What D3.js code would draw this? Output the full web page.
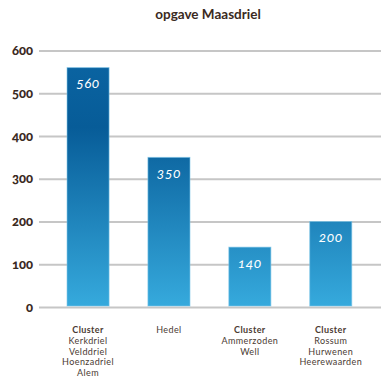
<!DOCTYPE html>
<html>
<head>
<meta charset="utf-8">
<script src="https://cdn.jsdelivr.net/npm/d3@7"></script>
<style>
  body { margin: 0; background: #fff; }
  svg text { font-family: Lato, "Open Sans", sans-serif; font-feature-settings: "onum"; }
</style>
</head>
<body>
<div id="chart"></div>
<script>
const width = 381;
const height = 389;

// chart data
const categories = ["Kerkdriel", "Hedel", "Ammerzoden", "Rossum"];
const values = [560, 350, 140, 200];
const catLines = [
  ["Cluster", "Kerkdriel", "Velddriel", "Hoenzadriel", "Alem"],
  ["Hedel"],
  ["Cluster", "Ammerzoden", "Well"],
  ["Cluster", "Rossum", "Hurwenen", "Heerewaarden"]
];
const boldFirst = [true, false, true, true];
const yTicks = [0, 100, 200, 300, 400, 500, 600];

const svg = d3.select("#chart").append("svg")
  .attr("width", width)
  .attr("height", height);

const x = d3.scaleBand()
  .domain(categories)
  .range([47.6, 371.2])
  .paddingInner(0.48)
  .paddingOuter(0.24);

const y = d3.scaleLinear()
  .domain([0, 600])
  .range([307, 50.5]);

// gradient over the full plot height, so short bars start lighter
const grad = svg.append("defs").append("linearGradient")
  .attr("id", "barGrad")
  .attr("gradientUnits", "userSpaceOnUse")
  .attr("x1", 0).attr("x2", 0)
  .attr("y1", y(600)).attr("y2", y(0));
grad.append("stop").attr("offset", "0%").attr("stop-color", "#0b65a3");
grad.append("stop").attr("offset", "30%").attr("stop-color", "#075c98");
grad.append("stop").attr("offset", "100%").attr("stop-color", "#36aadd");

// title
svg.append("text")
  .attr("x", 208)
  .attr("y", 19)
  .attr("text-anchor", "middle")
  .attr("font-size", 13.5)
  .attr("font-weight", "bold")
  .attr("fill", "#3a2a22")
  .text("opgave Maasdriel");

// gridlines + tick labels
const yAxis = d3.axisLeft(y)
  .tickValues(yTicks)
  .tickSize(-(width - 39))
  .tickPadding(6);

svg.append("g")
  .attr("transform", "translate(39,0)")
  .call(yAxis)
  .call(g => g.select(".domain").remove())
  .call(g => g.selectAll(".tick line")
    .attr("stroke", "#c6c6c6")
    .attr("stroke-width", 2))
  .call(g => g.selectAll(".tick text")
    .attr("font-size", 13)
    .attr("font-weight", "900")
    .attr("fill", "#3a2a22"));

// bars
svg.selectAll("rect.bar")
  .data(values)
  .enter().append("rect")
  .attr("class", "bar")
  .attr("x", (d, i) => x(categories[i]))
  .attr("y", d => y(d))
  .attr("width", x.bandwidth())
  .attr("height", d => y(0) - y(d) - 1)
  .attr("fill", "url(#barGrad)")
  .attr("stroke", "#7cc4e8")
  .attr("stroke-opacity", 0.6)
  .attr("stroke-width", 1);

// value labels inside bars
svg.selectAll("text.val")
  .data(values)
  .enter().append("text")
  .attr("class", "val")
  .attr("x", (d, i) => x(categories[i]) + x.bandwidth() / 2)
  .attr("y", d => y(d) + 20.5)
  .attr("text-anchor", "middle")
  .attr("font-size", 14)
  .attr("font-style", "italic")
  .attr("letter-spacing", 0.5)
  .attr("fill", "#fff")
  .text(d => d);

// category labels
categories.forEach((c, i) => {
  const cx = x(c) + x.bandwidth() / 2;
  const t = svg.append("text")
    .attr("x", cx)
    .attr("y", 333)
    .attr("text-anchor", "middle")
    .attr("font-size", 9)
    .attr("letter-spacing", 0.4)
    .attr("fill", "#4a3a32");
  catLines[i].forEach((line, j) => {
    t.append("tspan")
      .attr("x", cx)
      .attr("dy", j === 0 ? 0 : 10.8)
      .attr("font-weight", j === 0 && boldFirst[i] ? "bold" : "normal")
      .text(line);
  });
});
</script>
</body>
</html>
